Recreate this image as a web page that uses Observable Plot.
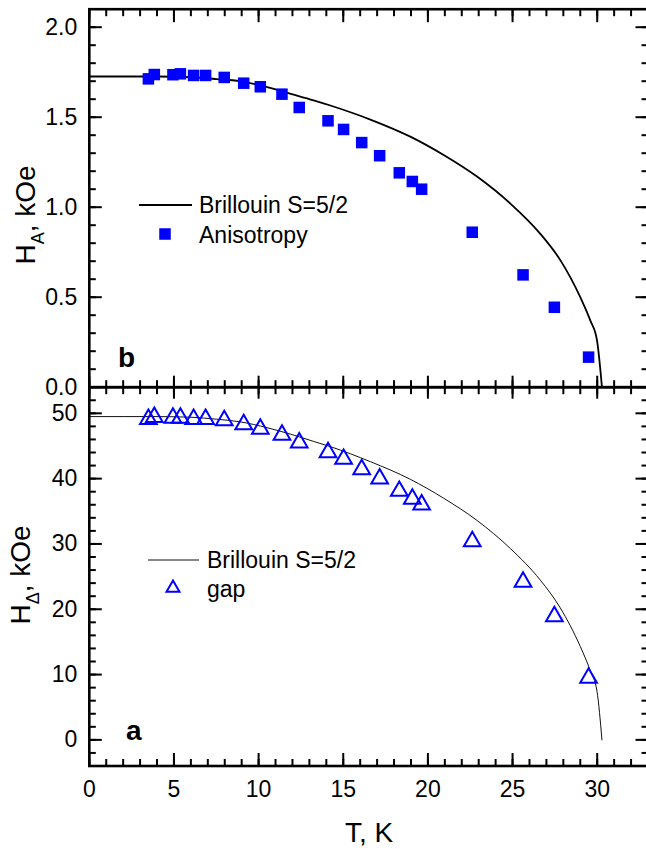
<!DOCTYPE html>
<html>
<head>
<meta charset="utf-8">
<script src="https://cdn.jsdelivr.net/npm/d3@7"></script>
<script src="https://cdn.jsdelivr.net/npm/@observablehq/plot@0.6"></script>
<style>
  html, body { margin: 0; padding: 0; background: #fff; }
  #chart { position: relative; width: 646px; height: 849px; overflow: hidden; background: #fff; }
  #chart svg { position: absolute; left: 0; top: 0; }
</style>
</head>
<body>
<div id="chart"></div>
<script>
// Measured temperatures (K), shared by both panels
const temperature = [3.49, 3.84, 4.94, 5.38, 6.16, 6.87, 7.97, 9.12, 10.1, 11.38, 12.4,
  14.1, 15.02, 16.09, 17.15, 18.31, 19.08, 19.63, 22.62, 25.62, 27.47, 29.49];
// Panel b: anisotropy field H_A (kOe)
const anisotropy = [1.713, 1.737, 1.736, 1.741, 1.732, 1.732, 1.721, 1.689, 1.669, 1.628, 1.554,
  1.480, 1.432, 1.359, 1.286, 1.191, 1.143, 1.100, 0.861, 0.624, 0.444, 0.167];
// Panel a: gap field H_Δ (kOe)
const gap = [49.1, 49.4, 49.3, 49.3, 49.1, 49.1, 48.9, 48.3, 47.6, 46.7, 45.5,
  44.0, 43.0, 41.4, 40.0, 38.1, 36.9, 36.0, 30.4, 24.2, 18.9, 9.5];

// Brillouin S=5/2 curves
const brillouinT = [0, 4, 6, 7.5, 8.9, 10.5, 11.9, 13.25, 14.24, 16.6, 18.96, 20.93,
  22.9, 24.87, 26.64, 27.82, 29.0, 29.59, 29.99, 30.28];
const brillouinHA = [1.726, 1.726, 1.722, 1.712, 1.700, 1.667, 1.630, 1.594, 1.565, 1.487, 1.392, 1.290,
  1.170, 1.020, 0.852, 0.706, 0.500, 0.371, 0.259, 0];
const brillouinHD = [49.5, 49.5, 49.4, 49.1, 48.7, 47.8, 46.8, 45.7, 44.9, 42.6, 39.9, 37.0,
  33.6, 29.3, 24.46, 20.2, 14.3, 10.6, 7.4, 0];

// Axis ticks
const xMajor = [0, 5, 10, 15, 20, 25, 30];
const xMinor = [0, 1, 2, 3, 4, 5, 6, 7, 8, 9, 10, 11, 12, 13, 14, 15, 16, 17, 18, 19, 20,
  21, 22, 23, 24, 25, 26, 27, 28, 29, 30, 31, 32, 33];
const haMajor = [0, 0.5, 1.0, 1.5, 2.0];
const haMinor = [0.1, 0.2, 0.3, 0.4, 0.5, 0.6, 0.7, 0.8, 0.9, 1.0, 1.1, 1.2, 1.3, 1.4, 1.5,
  1.6, 1.7, 1.8, 1.9, 2.0];
const hdMajor = [0, 10, 20, 30, 40, 50];
const hdMinor = [-2, 0, 2, 4, 6, 8, 10, 12, 14, 16, 18, 20, 22, 24, 26, 28, 30, 32, 34, 36,
  38, 40, 42, 44, 46, 48, 50, 52];

const FONT = "'Liberation Sans', Arial, Helvetica, sans-serif";
const BLUE = "#0000ff";
const W = 650, H = 849;

const anisoData = temperature.map((t, i) => ({T: t, H: anisotropy[i]}));
const gapData = temperature.map((t, i) => ({T: t, H: gap[i]}));
const curveA = brillouinT.map((t, i) => ({T: t, H: brillouinHA[i]}));
const curveD = brillouinT.map((t, i) => ({T: t, H: brillouinHD[i]}));

// Inward ticks on all four sides of a panel
function frameTicks(yMajor, yMinor, topLen, bottomLen) {
  const ink = {stroke: "black", strokeWidth: 2, fill: "none", label: null};
  return [
    Plot.axisY(yMajor, {anchor: "left", tickSize: -13, ...ink}),
    Plot.axisY(yMinor, {anchor: "left", tickSize: -7, ...ink}),
    Plot.axisY(yMajor, {anchor: "right", tickSize: -13, ...ink}),
    Plot.axisY(yMinor, {anchor: "right", tickSize: -7, ...ink}),
    Plot.axisX(xMajor, {anchor: "top", tickSize: -topLen, ...ink}),
    Plot.axisX(xMinor, {anchor: "top", tickSize: -6.5, ...ink}),
    Plot.axisX(xMajor, {anchor: "bottom", tickSize: -bottomLen, ...ink}),
    Plot.axisX(xMinor, {anchor: "bottom", tickSize: -6.5, ...ink}),
    Plot.frame({stroke: "black", strokeWidth: 2.6})
  ];
}

const svgStyle = {fontFamily: FONT, fontSize: "23px", color: "black", background: "transparent", maxWidth: "none", overflow: "visible"};

// Panel b (upper)
const panelB = Plot.plot({
  width: W, height: H,
  marginLeft: 88.8, marginRight: 2.5, marginTop: 8.7, marginBottom: H - 386.7,
  x: {domain: [0, 33]},
  y: {domain: [0, 2.1]},
  style: svgStyle,
  marks: [
    Plot.line(curveA, {x: "T", y: "H", stroke: "black", strokeWidth: 1.8, curve: "monotone-x"}),
    Plot.dot(anisoData, {x: "T", y: "H", symbol: "square", r: 6.5, fill: BLUE, stroke: "none"}),
    Plot.axisY(haMajor, {anchor: "left", tickSize: 0, tickPadding: 12, fontSize: 23, fill: "black",
      tickFormat: d => d.toFixed(1), label: null}),
    ...frameTicks(haMajor, haMinor, 12.5, 11)
  ]
});

// Panel a (lower)
const panelA = Plot.plot({
  width: W, height: H,
  marginLeft: 88.8, marginRight: 2.5, marginTop: 386.7, marginBottom: H - 765.5,
  x: {domain: [0, 33]},
  y: {domain: [-4, 54]},
  style: svgStyle,
  marks: [
    Plot.line(curveD, {x: "T", y: "H", stroke: "#111", strokeWidth: 1, curve: "monotone-x"}),
    Plot.dot(gapData, {x: "T", y: "H", symbol: "triangle", r: 6.2, fill: "none", stroke: BLUE, strokeWidth: 2}),
    Plot.axisY(hdMajor, {anchor: "left", tickSize: 0, tickPadding: 12, fontSize: 23, fill: "black", label: null}),
    Plot.axisX(xMajor, {anchor: "bottom", tickSize: 0, tickPadding: 15, fontSize: 23, fill: "black", label: null}),
    ...frameTicks(hdMajor, hdMinor, 11, 12.5)
  ]
});

const chart = document.getElementById("chart");
chart.append(panelA, panelB);

// Axis titles with subscripts
function yTitle(svg, x, cy, sub) {
  const t = d3.select(svg).append("text")
    .attr("transform", `translate(${x},${cy}) rotate(-90)`)
    .attr("text-anchor", "middle")
    .style("font-family", FONT).style("font-size", "28px").attr("fill", "black");
  t.append("tspan").text("H");
  t.append("tspan").attr("font-size", 18).attr("dy", 9).text(sub);
  t.append("tspan").attr("dy", -9).text(", kOe");
}
yTitle(panelB, 35, 215, "A");
yTitle(panelA, 30, 575, "Δ");

d3.select(panelA).append("text")
  .attr("x", 369).attr("y", 842).attr("text-anchor", "middle")
  .style("font-family", FONT).style("font-size", "28px").attr("fill", "black")
  .text("T, K");

// Panel letters
function panelLetter(svg, x, y, s) {
  d3.select(svg).append("text").attr("x", x).attr("y", y).attr("text-anchor", "start")
    .style("font-family", FONT).style("font-size", "28px").style("font-weight", "bold")
    .attr("fill", "black").text(s);
}
panelLetter(panelB, 118, 367, "b");
panelLetter(panelA, 126, 740, "a");

// Legends
function legendText(g, x, y, s) {
  g.append("text").attr("x", x).attr("y", y).attr("text-anchor", "start")
    .style("font-family", FONT).style("font-size", "23px").attr("fill", "black").text(s);
}
const legB = d3.select(panelB).append("g");
legB.append("line").attr("x1", 139).attr("x2", 192).attr("y1", 205).attr("y2", 205)
  .attr("stroke", "black").attr("stroke-width", 2);
legendText(legB, 199, 213, "Brillouin S=5/2");
legB.append("path").attr("transform", "translate(165,234)")
  .attr("d", d3.symbol(d3.symbolSquare, Math.PI * 6.5 * 6.5)()).attr("fill", BLUE);
legendText(legB, 199, 242.5, "Anisotropy");

const legA = d3.select(panelA).append("g");
legA.append("line").attr("x1", 148).attr("x2", 199).attr("y1", 560).attr("y2", 560)
  .attr("stroke", "#111").attr("stroke-width", 1);
legendText(legA, 207, 568, "Brillouin S=5/2");
legA.append("path").attr("transform", "translate(173,588)")
  .attr("d", d3.symbol(d3.symbolTriangle2, Math.PI * 6.2 * 6.2)())
  .attr("fill", "none").attr("stroke", BLUE).attr("stroke-width", 2);
legendText(legA, 207, 596.5, "gap");
</script>
</body>
</html>
